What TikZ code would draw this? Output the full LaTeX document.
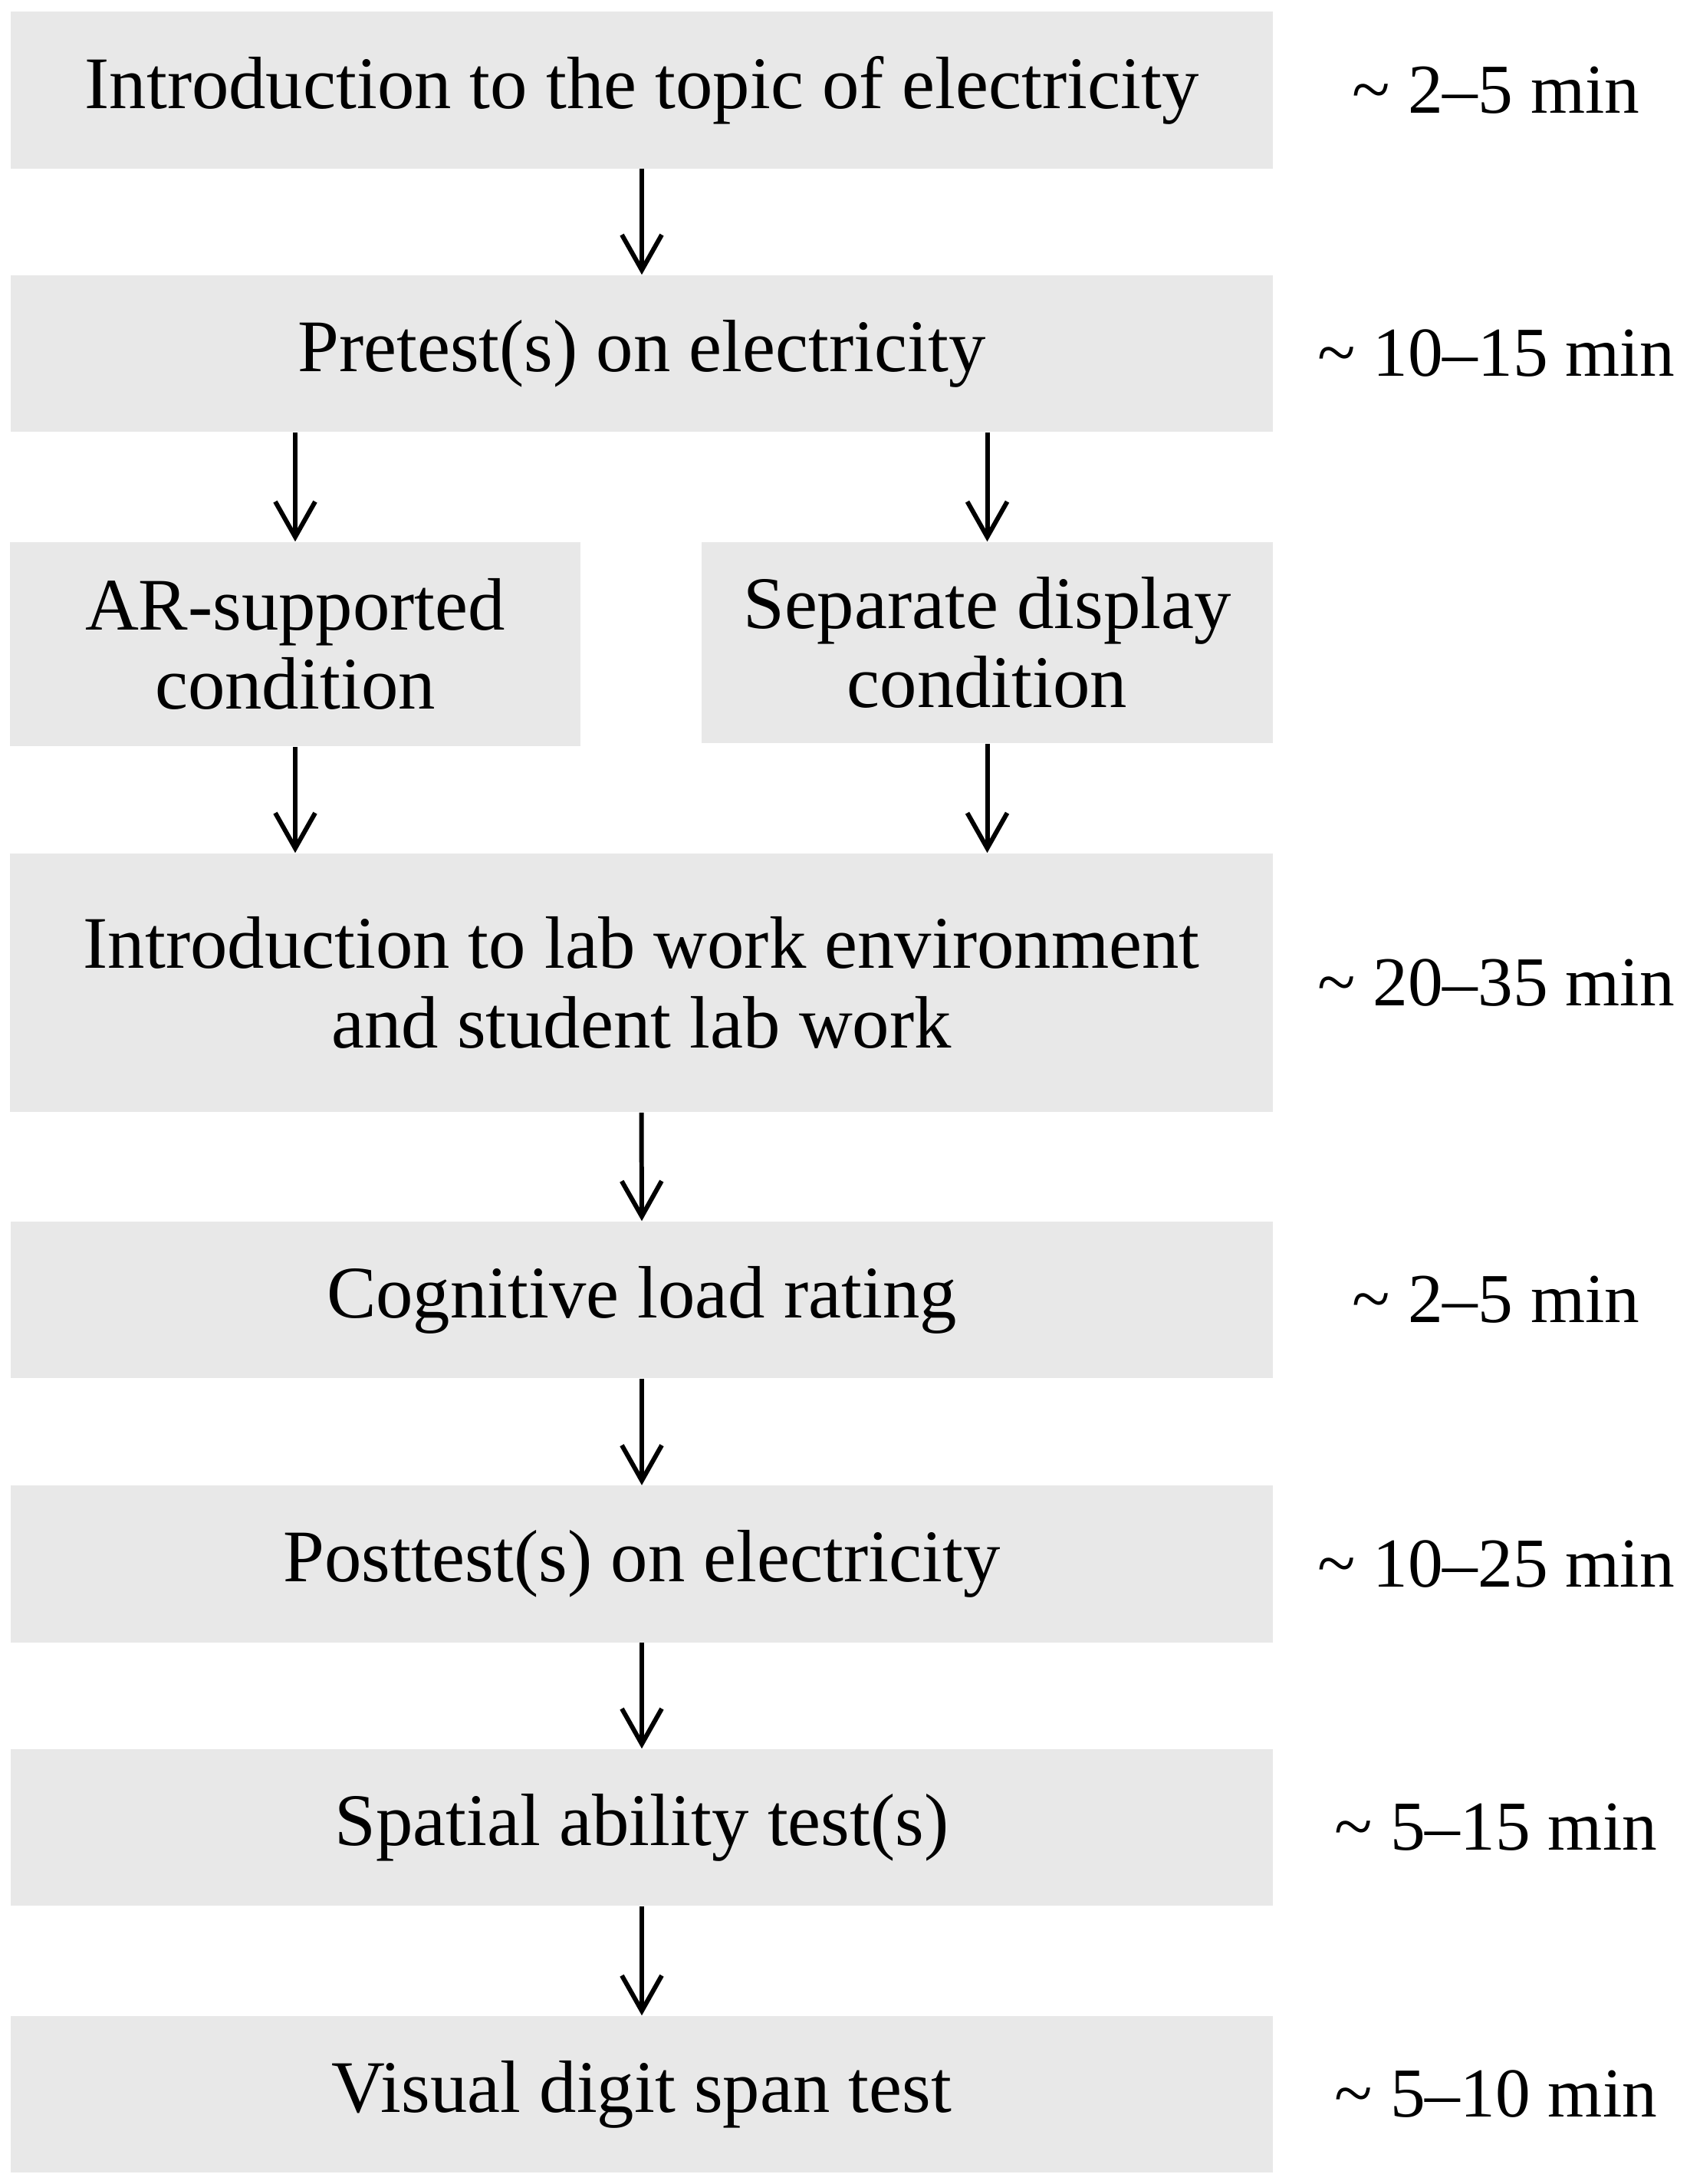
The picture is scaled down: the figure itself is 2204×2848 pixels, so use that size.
\documentclass[tikz,border=0pt]{standalone}
\usepackage{fontspec}
\setmainfont{Liberation Serif}
\usetikzlibrary{arrows.meta}
\definecolor{boxgray}{RGB}{232,232,232}
\tikzset{
  stepbox/.style={fill=boxgray, draw=none, inner sep=0pt, align=center,
    font=\fontsize{27.5}{29.5}\selectfont, text=black},
  widebox/.style={stepbox, minimum width=16.46cm, minimum height=2.04cm},
  timelabel/.style={inner sep=0pt, font=\fontsize{26}{31}\selectfont, text=black},
  arr/.style={line width=1.7pt, -{Straight Barb[length=0.46cm,width=0.52cm,line width=1.7pt]}}
}
\begin{document}
\begin{tikzpicture}[x=0.01cm,y=-0.01cm]
\useasboundingbox (0,0) rectangle (2204,2848);
\node[widebox] (B1) at (837,117.5) {Introduction to the topic of electricity};
\node[widebox] (B2) at (837,461) {Pretest(s) on electricity};
\node[stepbox, minimum width=7.44cm, minimum height=2.66cm] (B3) at (385,840) {AR-supported\\condition};
\node[stepbox, minimum width=7.45cm, minimum height=2.62cm] (B4) at (1287.5,838) {Separate display\\condition};
\node[widebox, minimum height=3.37cm] (B5) at (836.5,1281.5) {Introduction to lab work environment\\and student lab work};
\node[widebox] (B6) at (837,1695) {Cognitive load rating};
\node[widebox] (B7) at (837,2039.5) {Posttest(s) on electricity};
\node[widebox] (B8) at (837,2383) {Spatial ability test(s)};
\node[widebox] (B9) at (837,2731) {Visual digit span test};

\node[timelabel] (T1) at (1951,117.5) {\textasciitilde{} 2–5 min};
\node[timelabel] (T2) at (1951,461) {\textasciitilde{} 10–15 min};
\node[timelabel] (T5) at (1951,1281.5) {\textasciitilde{} 20–35 min};
\node[timelabel] (T6) at (1951,1695) {\textasciitilde{} 2–5 min};
\node[timelabel] (T7) at (1951,2039.5) {\textasciitilde{} 10–25 min};
\node[timelabel] (T8) at (1951,2383) {\textasciitilde{} 5–15 min};
\node[timelabel] (T9) at (1951,2731) {\textasciitilde{} 5–10 min};

\draw[arr] (B1.south) -- (B2.north);
\draw[arr] (B2.south -| B3.north) -- (B3.north);
\draw[arr] (B2.south -| B4.north) -- (B4.north);
\draw[arr] (B3.south) -- (B3.south |- B5.north);
\draw[arr] (B4.south) -- (B4.south |- B5.north);
\draw[arr] (B5.south) -- (B6.north);
\draw[arr] (B6.south) -- (B7.north);
\draw[arr] (B7.south) -- (B8.north);
\draw[arr] (B8.south) -- (B9.north);
\end{tikzpicture}
\end{document}
